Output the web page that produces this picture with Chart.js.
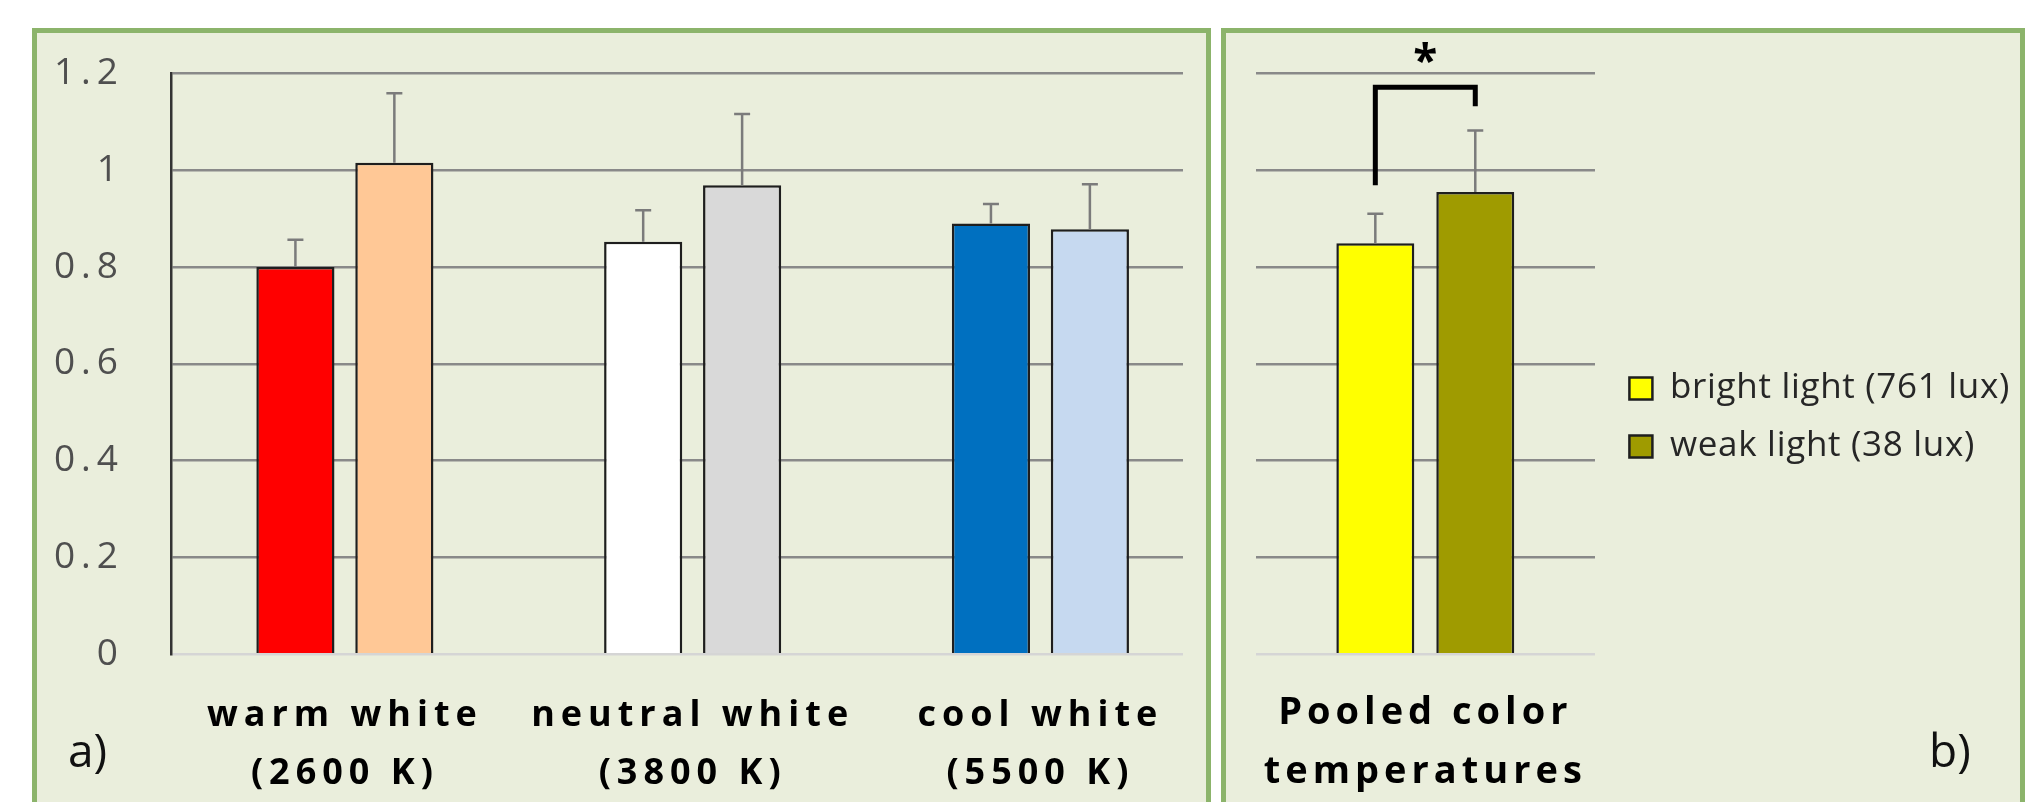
<!DOCTYPE html>
<html>
<head>
<meta charset="utf-8">
<title>Bright vs weak light by color temperature</title>
<script src="https://cdn.jsdelivr.net/npm/chart.js@4.4.1/dist/chart.umd.min.js"></script>
<style>
  html, body { margin: 0; padding: 0; background: #fff; }
  body { width: 2039px; height: 802px; position: relative; overflow: hidden; font-family: "Open Sans", sans-serif; }
  .panel { position: absolute; top: 28px; height: 800px; box-sizing: border-box; border: 5px solid #8cb46b; background: #eaeedc; }
  #panelA { left: 32px; width: 1179px; }
  #panelB { left: 1221px; width: 804px; }
  .panel canvas { position: absolute; left: 0; top: 0; }
  .tag { position: absolute; top: 726px; font-size: 46px; line-height: 46px; color: #111; }
</style>
</head>
<body>
<div class="panel" id="panelA"><canvas id="chartA" width="1169" height="769"></canvas></div>
<div class="panel" id="panelB"><canvas id="chartB" width="794" height="769"></canvas></div>
<div class="tag" style="left:68px">a)</div>
<div class="tag" style="left:1929px">b)</div>
<script>
// --- data ---
const categoriesA = [['warm white', '(2600 K)'], ['neutral white', '(3800 K)'], ['cool white', '(5500 K)']];
const categoriesB = [['Pooled color', 'temperatures']];
const seriesNames = ['bright light (761 lux)', 'weak light (38 lux)'];

const brightA = [0.800, 0.852, 0.890];
const weakA = [1.015, 0.969, 0.878];
const brightErrA = [0.056, 0.065, 0.040];
const weakErrA = [0.144, 0.147, 0.093];

const brightB = [0.849];
const weakB = [0.955];
const brightErrB = [0.061];
const weakErrB = [0.127];

const yTicks = [0, 0.2, 0.4, 0.6, 0.8, 1, 1.2];
const yTickLabels = ['0', '0.2', '0.4', '0.6', '0.8', '1', '1.2'];

// significance bracket (left foot, top, right foot) and star height, in y units
const sigBracket = [0.969, 1.171, 1.132];
const sigStar = 1.2425;

// --- styling ---
const brightColorsA = ['#ff0000', '#ffffff', '#0070c0'];
const weakColorsA = ['#ffc896', '#d9d9d9', '#c6d9f0'];
const GRID = '#898989';
const ZERO = '#d5d5d5';
const EDGE = '#1e1e1e';

Chart.defaults.font.family = '"Open Sans", sans-serif';

// Canvas letter spacing: one value for layout and everything drawn before
// the bars, another for what is drawn after (ticks with z: 1).
const tracking = (base, late) => ({
    id: 'tracking',
    beforeLayout(chart) { chart.ctx.letterSpacing = base; },
    beforeDraw(chart) { chart.ctx.letterSpacing = base; },
    afterDatasetsDraw(chart) { chart.ctx.letterSpacing = late; },
    afterDraw(chart) { chart.ctx.letterSpacing = '0px'; },
});

// Upward-only error bars, read from dataset.errors
const errorBars = {
    id: 'errorBars',
    afterDatasetsDraw(chart) {
        const { ctx } = chart;
        const y = chart.scales.y;
        ctx.save();
        ctx.strokeStyle = '#7b7b7b';
        ctx.lineWidth = 2.5;
        chart.data.datasets.forEach((ds, di) => {
            chart.getDatasetMeta(di).data.forEach((bar, i) => {
                const d = ds.data[i];
                const val = typeof d === 'object' ? d.y : d;
                const top = y.getPixelForValue(val + ds.errors[i]);
                ctx.beginPath();
                ctx.moveTo(bar.x, bar.y);
                ctx.lineTo(bar.x, top);
                ctx.moveTo(bar.x - 8, top);
                ctx.lineTo(bar.x + 8, top);
                ctx.stroke();
            });
        });
        ctx.restore();
    },
};

const significance = {
    id: 'significance',
    afterDatasetsDraw(chart) {
        const { ctx } = chart;
        const y = chart.scales.y;
        const left = chart.getDatasetMeta(0).data[0].x;
        const right = chart.getDatasetMeta(1).data[0].x;
        ctx.save();
        ctx.strokeStyle = '#000';
        ctx.lineWidth = 5;
        ctx.lineJoin = 'miter';
        ctx.beginPath();
        ctx.moveTo(left, y.getPixelForValue(sigBracket[0]));
        ctx.lineTo(left, y.getPixelForValue(sigBracket[1]));
        ctx.lineTo(right, y.getPixelForValue(sigBracket[1]));
        ctx.lineTo(right, y.getPixelForValue(sigBracket[2]));
        ctx.stroke();

        ctx.letterSpacing = '0px';
        ctx.font = 'bold 44px "Open Sans"';
        ctx.fillStyle = '#000';
        ctx.textAlign = 'center';
        ctx.textBaseline = 'alphabetic';
        const m = ctx.measureText('*');
        const cy = y.getPixelForValue(sigStar);
        ctx.fillText('*', (left + right) / 2, cy + (m.actualBoundingBoxAscent - m.actualBoundingBoxDescent) / 2);
        ctx.restore();
    },
};

const yGrid = {
    color: (c) => (c.tick && c.tick.value === 0 ? ZERO : GRID),
    lineWidth: 2.5,
    drawTicks: false,
};

// --- panel a ---
new Chart(document.getElementById('chartA'), {
    type: 'bar',
    data: {
        datasets: [
            {
                label: seriesNames[0],
                data: brightA.map((v, i) => ({ x: i, y: v })),
                errors: brightErrA,
                backgroundColor: brightColorsA,
                borderColor: EDGE,
                borderWidth: 2.5,
                categoryPercentage: 0.569,
                barPercentage: 0.79,
            },
            {
                label: seriesNames[1],
                data: weakA.map((v, i) => ({ x: i, y: v })),
                errors: weakErrA,
                backgroundColor: weakColorsA,
                borderColor: EDGE,
                borderWidth: 2.5,
                categoryPercentage: 0.569,
                barPercentage: 0.79,
            },
        ],
    },
    options: {
        responsive: false,
        animation: false,
        layout: { padding: { top: 40.3, right: 23, bottom: 0, left: 0 } },
        plugins: { legend: { display: false }, tooltip: { enabled: false } },
        scales: {
            x: {
                type: 'linear',
                bounds: 'data',
                min: -0.5,
                max: 2.41,
                offset: false,
                grid: { display: false, drawTicks: false, tickLength: 0 },
                border: { display: false },
                afterBuildTicks: (s) => { s.ticks = categoriesA.map((c, i) => ({ value: i })); },
                afterFit: (s) => { s.height = 147.7; },
                ticks: {
                    callback: (v) => categoriesA[v],
                    color: '#000',
                    font: { size: 36, weight: 'bold', lineHeight: 1.61 },
                    padding: 32.7,
                    maxRotation: 0,
                    autoSkip: false,
                },
            },
            y: {
                bounds: 'data',
                min: 0,
                max: 1.2,
                afterBuildTicks: (s) => { s.ticks = yTicks.map((v) => ({ value: v })); },
                // the wide tick padding must not push the plot down
                afterFit: (s) => { s.width = 134; s.paddingTop = 0; s.paddingBottom = 0; },
                grid: yGrid,
                border: { display: true, color: '#333', width: 2.5 },
                ticks: {
                    callback: (v, i) => yTickLabels[i],
                    color: '#4f4f4f',
                    font: { size: 37, weight: 500 },
                    padding: 47,
                },
            },
        },
    },
    plugins: [tracking('6px', '6px'), errorBars],
});

// --- panel b ---
new Chart(document.getElementById('chartB'), {
    type: 'bar',
    data: {
        labels: categoriesB,
        datasets: [
            {
                label: seriesNames[0],
                data: brightB,
                errors: brightErrB,
                backgroundColor: '#ffff00',
                borderColor: EDGE,
                borderWidth: 2.5,
                categoryPercentage: 0.589,
                barPercentage: 0.78,
            },
            {
                label: seriesNames[1],
                data: weakB,
                errors: weakErrB,
                backgroundColor: '#9f9b00',
                borderColor: EDGE,
                borderWidth: 2.5,
                categoryPercentage: 0.589,
                barPercentage: 0.78,
            },
        ],
    },
    options: {
        responsive: false,
        animation: false,
        layout: { padding: 0 },
        plugins: {
            legend: {
                position: 'right',
                align: 'center',
                maxWidth: 460,
                labels: {
                    boxWidth: 23,
                    boxHeight: 22,
                    padding: 23,
                    color: '#262626',
                    font: { size: 35, lineHeight: 1.2 },
                },
            },
            tooltip: { enabled: false },
        },
        scales: {
            x: {
                grid: { display: false, drawTicks: false, tickLength: 0 },
                border: { display: false },
                afterFit: (s) => { s.height = 147.7; },
                ticks: {
                    z: 1,
                    color: '#000',
                    font: { size: 38, weight: 'bold', lineHeight: 1.55 },
                    padding: 29.5,
                    maxRotation: 0,
                    autoSkip: false,
                },
            },
            // empty band above the plot (the star sits in it)
            xTop: {
                position: 'top',
                grid: { display: false, drawTicks: false },
                border: { display: false },
                ticks: { display: false },
                afterFit: (s) => { s.height = 40.3; },
            },
            y: {
                bounds: 'data',
                min: 0,
                max: 1.2,
                afterBuildTicks: (s) => { s.ticks = yTicks.map((v) => ({ value: v })); },
                afterFit: (s) => { s.width = 29.6; },
                grid: yGrid,
                border: { display: false },
                ticks: { display: false },
            },
            // spacer between the plot and the legend, keeps the plot's right edge fixed
            y2: {
                position: 'right',
                min: 0,
                max: 1.2,
                grid: { display: false, drawOnChartArea: false },
                border: { display: false },
                ticks: { display: false },
                afterFit: (s) => { s.width = Math.max(0, s.chart.width - s.chart.legend.width - 369); },
            },
        },
    },
    plugins: [tracking('0.7px', '5px'), errorBars, significance],
});
</script>
</body>
</html>
